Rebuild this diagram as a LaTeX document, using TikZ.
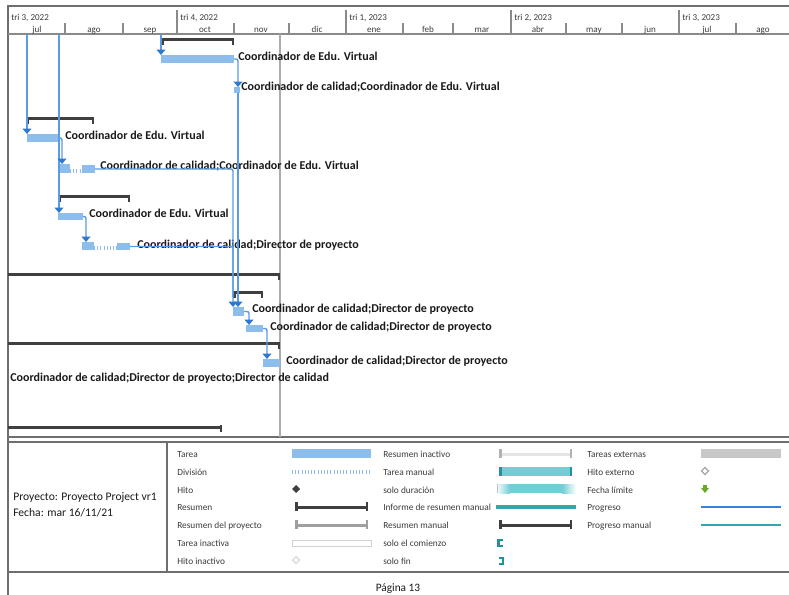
\documentclass[tikz,border=0pt]{standalone}
\usepackage{fontspec}
\setmainfont{Carlito}
\usetikzlibrary{arrows.meta,fit,calc}
\definecolor{taskc}{HTML}{8CBDEB}
\definecolor{linkc}{HTML}{5A9BE3}
\definecolor{arrowc}{HTML}{2F78D0}
\definecolor{sumc}{HTML}{3F3F3F}
\definecolor{framec}{HTML}{6E6E6E}
\definecolor{gridc}{HTML}{ABABAB}
\definecolor{hdrc}{HTML}{8A8A8A}
\definecolor{tealc}{HTML}{72CDD5}
\definecolor{tealdk}{HTML}{1E939C}
\definecolor{tealln}{HTML}{2EA7AE}
\definecolor{extc}{HTML}{C8C8C8}
\definecolor{greenc}{HTML}{6AAA2A}
\definecolor{progc}{HTML}{3C7FD6}
\definecolor{txtc}{HTML}{1A1A1A}
\tikzset{
  task/.style={fill=taskc, draw=none, inner sep=0pt, outer sep=0pt},
  sumbar/.style={fill=sumc, draw=none, inner sep=0pt, outer sep=0pt},
  link/.style={draw=linkc, line width=1.1pt, rounded corners=1.5pt,
    -{Triangle[width=6.5pt,length=4pt,color=arrowc]}},
  plainlink/.style={draw=linkc, line width=1.1pt, rounded corners=1.5pt},
  splitdots/.style={draw=taskc, line width=2.6pt, dash pattern=on 0.8pt off 1.6pt},
  lbl/.style={anchor=base west, inner sep=0pt, text=txtc, font=\fontsize{9}{10}\selectfont\bfseries},
  hdrtxt/.style={anchor=base west, inner sep=0pt, text=txtc!85, font=\fontsize{6.8}{8}\selectfont},
  montxt/.style={anchor=base, inner sep=0pt, text=txtc!85, font=\fontsize{6.8}{8}\selectfont},
  legtxt/.style={anchor=base west, inner sep=0pt, text=txtc!85, font=\fontsize{7}{8}\selectfont},
  frameline/.style={draw=framec, line width=1.4pt},
}
\newcommand\summ[4]{% name, x1, x2, y
  \node[sumbar, fit={(#2,#4-1.5) (#3,#4+1.5)}] (#1) {};
  \fill[sumc] (#2,#4-2) rectangle (#2+2.5,#4+5);
  \fill[sumc] (#3-2.5,#4-2) rectangle (#3,#4+5);}
\newcommand\summr[4]{% summary with right tick only
  \node[sumbar, fit={(#2,#4-1.5) (#3,#4+1.5)}] (#1) {};
  \fill[sumc] (#3-2.5,#4-2) rectangle (#3,#4+5);}
\begin{document}
\begin{tikzpicture}[x=0.75pt,y=-0.75pt]
\useasboundingbox (0,0) rectangle (789,595);
\fill[white] (0,0) rectangle (789,595);

% ---------- frame ----------
\draw[frameline] (8,6) -- (789,6);
\draw[frameline] (8,5) -- (8,595);
\draw[draw=hdrc, line width=1.3pt] (8,34) -- (789,34);
\draw[draw=framec, line width=1.1pt] (8,437) -- (789,437);
\draw[draw=framec, line width=1.3pt] (8,442) -- (789,442);
\draw[draw=framec, line width=1.3pt] (8,572) -- (789,572);
\draw[draw=framec, line width=1.3pt] (167,442) -- (167,572);

% ---------- timescale ----------
\foreach \x in {177,346,511,679} \draw[hdrc, line width=0.8pt] (\x,10) -- (\x,34);
\foreach \x in {65,123,234,289,403,453,566,622,736} \draw[hdrc, line width=0.8pt] (\x,23) -- (\x,34);
\node[hdrtxt] (q1) at (11,21) {tri 3, 2022};
\node[hdrtxt] (q2) at (180,21) {tri 4, 2022};
\node[hdrtxt] (q3) at (349,21) {tri 1, 2023};
\node[hdrtxt] (q4) at (514,21) {tri 2, 2023};
\node[hdrtxt] (q5) at (682,21) {tri 3, 2023};
\foreach \x/\m in {37/jul,94/ago,150/sep,205/oct,261/nov,317/dic,374/ene,428/feb,482/mar,538/abr,594/may,650/jun,707/jul,763/ago}
  \node[montxt] at (\x,33) {\m};

% current/page line
\draw[gridc, line width=1.2pt] (280,34) -- (280,437);

% ---------- bars ----------
\summ{s1}{161}{234}{40}
\node[task, fit={(161,55) (234,63)}] (t1) {};
\node[task, fit={(234,87) (240,93)}] (t2) {};
\summ{s2}{26}{94}{119}
\node[task, fit={(27,134) (60,142)}] (t3) {};
\node[task, fit={(59,164) (70,173)}] (t4a) {};
\node[task, fit={(82,165) (95,173)}] (t4b) {};
\draw[splitdots] (t4a.east |- 0,171) -- (t4b.west |- 0,171);
\summ{s3}{58}{130}{197}
\node[task, fit={(58,213) (83,220)}] (t5) {};
\node[task, fit={(82,242) (94,250)}] (t6a) {};
\node[task, fit={(117,243) (130,250)}] (t6b) {};
\draw[splitdots] (t6a.east |- 0,248) -- (t6b.west |- 0,248);
\summr{s4}{8}{280}{275}
\summ{s5}{233}{263}{293}
\node[task, fit={(233,307) (244,316)}] (t7) {};
\node[task, fit={(246,325) (263,332)}] (t8) {};
\summr{s6}{8}{280}{344}
\node[task, fit={(263,359) (280,367)}] (t9) {};
\summr{s7}{8}{222}{427}

% ---------- labels ----------
\node[lbl] (l1) at (238,61) {Coordinador de Edu. Virtual};
\node[lbl] (l2) at (241,91) {Coordinador de calidad;Coordinador de Edu. Virtual};
\node[lbl] (l3) at (65,140) {Coordinador de Edu. Virtual};
\node[lbl] (l4) at (100,170) {Coordinador de calidad;Coordinador de Edu. Virtual};
\node[lbl] (l5) at (89,218) {Coordinador de Edu. Virtual};
\node[lbl] (l6) at (137,249) {Coordinador de calidad;Director de proyecto};
\node[lbl] (l7) at (252,313) {Coordinador de calidad;Director de proyecto};
\node[lbl] (l8) at (270,330) {Coordinador de calidad;Director de proyecto};
\node[lbl] (l9) at (286,364) {Coordinador de calidad;Director de proyecto};
\node[lbl] (l10) at (10,382) {Coordinador de calidad;Director de proyecto;Director de calidad};

% ---------- links ----------
\coordinate (h1) at (27,34);
\coordinate (h2) at (59,34);
\coordinate (h3) at (161,34);
\draw[link] (h3) -- (h3 |- t1.north);
\draw[link] (h1) -- (h1 |- t3.north);
\draw[link] (h2) -- (h2 |- t5.north);
\draw[link] (t1.east) -| ($(t2.north west)+(4,0)$);
\draw[link] ($(t2.south west)+(4,0)$) -- ($(t7.north west)+(5,0)$);
\draw[link] (t3.east) -| ($(t4a.north west)+(3,0)$);
\draw[link] (t4b.east) -| (t7.north west);
\draw[plainlink] (t6b.east) -| ($(t7.north west)+(0,-10)$);
\draw[link] (t5.east) -| ($(t6a.north west)+(4,0)$);
\draw[link] (t7.east) -| ($(t8.north west)+(3,0)$);
\draw[link] (t8.east) -| ($(t9.north west)+(4,0)$);

% ---------- legend ----------
\node[anchor=base west, inner sep=0pt, text=txtc, font=\fontsize{8.7}{10}\selectfont] (p1) at (13,500) {Proyecto: Proyecto Project vr1};
\node[anchor=base west, inner sep=0pt, text=txtc, font=\fontsize{8.7}{10}\selectfont] (p2) at (13,516) {Fecha: mar 16/11/21};

\foreach \y/\t in {454/Tarea,472/División,490/Hito,507/Resumen,525/Resumen del proyecto,543/Tarea inactiva,561/Hito inactivo}
  \node[legtxt] at (177,\y+3) {\t};
\foreach \y/\t in {454/Resumen inactivo,472/Tarea manual,490/solo duración,507/Informe de resumen manual,525/Resumen manual,543/solo el comienzo,561/solo fin}
  \node[legtxt] at (383,\y+3) {\t};
\foreach \y/\t in {454/Tareas externas,472/Hito externo,490/Fecha límite,507/Progreso,525/Progreso manual}
  \node[legtxt] at (587,\y+3) {\t};

% column 1 symbols
\fill[taskc] (292,449) rectangle (371,458);
\draw[splitdots] (292,472) -- (371,472);
\fill[sumc] (296,485) -- (300,489) -- (296,493) -- (292,489) -- cycle;
\fill[sumc] (295,505.5) rectangle (368,508.5);
\fill[sumc] (295,502) rectangle (297.5,511);
\fill[sumc] (365.5,502) rectangle (368,511);
\fill[gray!75] (295,523.5) rectangle (368,526.5);
\fill[gray!75] (295,520) rectangle (297.5,529);
\fill[gray!75] (365.5,520) rectangle (368,529);
\draw[gray!35, line width=0.6pt] (292,540) rectangle (371,546);
\draw[gray!30, line width=0.8pt] (296,556.5) -- (299.5,560) -- (296,563.5) -- (292.5,560) -- cycle;

% column 2 symbols
\fill[gray!20] (499,452.5) rectangle (572,455.5);
\fill[gray!60] (499,449) rectangle (501.5,458);
\fill[gray!60] (569.5,449) rectangle (572,458);
\fill[tealc] (499,467) rectangle (572,476);
\fill[tealdk] (499,467) rectangle (501.5,476);
\fill[tealdk] (569.5,467) rectangle (572,476);
\shade[left color=white, right color=tealc] (496,484) rectangle (510,493);
\fill[tealc] (510,484) rectangle (562,493);
\shade[left color=tealc, right color=white] (562,484) rectangle (576,493);
\draw[gray!50, line width=0.5pt] (497,484) -- (497,493);
\draw[tealln, line width=3pt] (496,507) -- (576,507);
\fill[sumc] (499,523.5) rectangle (572,526.5);
\fill[sumc] (499,520) rectangle (501.5,529);
\fill[sumc] (569.5,520) rectangle (572,529);
\draw[tealdk, line width=1.6pt] (502.5,540) -- (498.5,540) -- (498.5,546) -- (502.5,546);
\draw[tealdk, line width=1.6pt] (499,558) -- (503,558) -- (503,564) -- (499,564);

% column 3 symbols
\fill[extc] (701,449) rectangle (781,458);
\draw[gray!70, line width=0.9pt] (705,467.5) -- (708.5,471) -- (705,474.5) -- (701.5,471) -- cycle;
\fill[greenc] (703.3,484.5) rectangle (706.7,489);
\fill[greenc] (701,488) -- (709,488) -- (705,493) -- cycle;
\draw[progc, line width=2.2pt] (701,507) -- (781,507);
\draw[tealln, line width=2.2pt] (701,525) -- (781,525);

\node[anchor=base, inner sep=0pt, text=txtc, font=\fontsize{8.5}{10}\selectfont] (pg) at (398,591) {Página 13};
\end{tikzpicture}
\end{document}
